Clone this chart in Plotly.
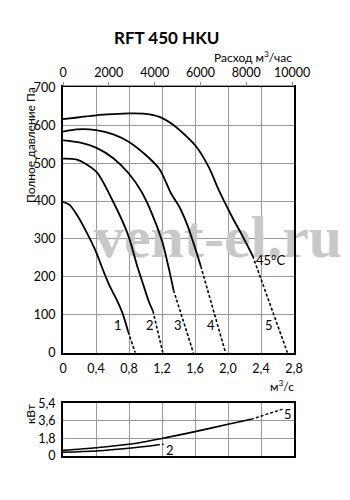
import plotly.graph_objects as go

# ---------------- data ----------------
flow_ticks = [0, 0.4, 0.8, 1.2, 1.6, 2.0, 2.4, 2.8]
flow_tick_text = ["0", "0,4", "0,8", "1,2", "1,6", "2,0", "2,4", "2,8"]
flow_h_ticks = [0, 2000, 4000, 6000, 8000, 10000]
flow_h_tick_text = ["0", "2000", "4000", "6000", "8000", "10000"]
p_ticks = [0, 100, 200, 300, 400, 500, 600, 700]
p_tick_text = ["0", "100", "200", "300", "400", "500", "600", "700"]
kw_ticks = [0, 1.8, 3.6, 5.4]
kw_tick_text = ["0", "1,8", "3,6", "5,4"]

# pressure curves (solid part) and their dashed continuation
c1_q = [0, 0.08, 0.17, 0.28, 0.39, 0.5, 0.57, 0.65, 0.72, 0.79]
c1_p = [398, 390, 363, 320, 271, 210, 174, 140, 105, 55]
c1_dq = [0.79, 0.875]
c1_dp = [55, 0]

c2_q = [0, 0.17, 0.4, 0.59, 0.79, 0.9, 0.98, 1.04, 1.09]
c2_p = [512, 509, 478, 406, 310, 228, 175, 135, 110]
c2_dq = [1.09, 1.21]
c2_dp = [110, 0]

c3_q = [0, 0.21, 0.4, 0.61, 0.8, 0.95, 1.07, 1.2, 1.28, 1.34]
c3_p = [560, 554, 541, 513, 472, 425, 371, 295, 225, 165]
c3_dq = [1.34, 1.58]
c3_dp = [165, 0]

c4_q = [0, 0.17, 0.4, 0.61, 0.8, 1.0, 1.17, 1.31, 1.41, 1.51, 1.61, 1.67]
c4_p = [583, 589, 587, 576, 556, 522, 484, 420, 385, 335, 270, 228]
c4_dq = [1.67, 1.97]
c4_dp = [228, 0]

c5_q = [0, 0.2, 0.4, 0.6, 0.8, 1.0, 1.17, 1.33, 1.49, 1.61, 1.77, 1.89, 2.05, 2.17, 2.30]
c5_p = [616, 621, 626, 629, 631, 630, 622, 602, 572, 545, 488, 428, 358, 310, 255]
c5_dq = [2.30, 2.72]
c5_dp = [255, 0]

curve_labels = ["1", "2", "3", "4", "5"]
curve_label_q = [0.67, 1.06, 1.39, 1.79, 2.50]
curve_label_p = [72, 72, 72, 72, 72]

# power curves
pw5_q = [0, 0.4, 0.8, 1.2, 1.6, 2.0, 2.28]
pw5_kw = [0.58, 0.85, 1.2, 1.8, 2.5, 3.25, 3.76]
pw5_dq = [2.28, 2.68]
pw5_dkw = [3.76, 4.85]

pw2_q = [0, 0.4, 0.8, 1.14]
pw2_kw = [0.38, 0.51, 0.79, 1.13]
pw2_dq = [1.14, 1.22]
pw2_dkw = [1.13, 1.2]

# ---------------- layout geometry ----------------
W, H = 350, 500
L, R = 63, 294
T1, B1 = 87.3, 352.7
T2, B2 = 403.3, 456
FONT = "Lato"

def px(x):
    return x / W

def py(y):
    return 1 - y / H

fig = go.Figure()

# watermark (under the curves)
fig.add_trace(go.Scatter(
    x=[1.88], y=[292], mode="text", text=["<b>vent-el.ru</b>"],
    textfont=dict(family="Liberation Serif", size=60, color="#c8c8c8"),
    cliponaxis=False, hoverinfo="skip", showlegend=False))

solid = dict(color="black", width=1.8)
dashed = dict(color="black", width=1.6, dash="3px,2px")

for q, p, dq, dp in [(c1_q, c1_p, c1_dq, c1_dp), (c2_q, c2_p, c2_dq, c2_dp),
                     (c3_q, c3_p, c3_dq, c3_dp), (c4_q, c4_p, c4_dq, c4_dp),
                     (c5_q, c5_p, c5_dq, c5_dp)]:
    fig.add_trace(go.Scatter(x=q, y=p, mode="lines", line=dict(shape="spline", smoothing=0.8, **solid),
                             showlegend=False, hoverinfo="skip"))
    fig.add_trace(go.Scatter(x=dq, y=dp, mode="lines", line=dashed,
                             showlegend=False, hoverinfo="skip"))

# invisible trace on the top m3/h axis
fig.add_trace(go.Scatter(x=[0, 10080], y=[0, 0], xaxis="x3", yaxis="y", mode="lines",
                         line=dict(width=0), showlegend=False, hoverinfo="skip"))

for q, k, dq, dk in [(pw5_q, pw5_kw, pw5_dq, pw5_dkw), (pw2_q, pw2_kw, pw2_dq, pw2_dkw)]:
    fig.add_trace(go.Scatter(x=q, y=k, xaxis="x2", yaxis="y2", mode="lines",
                             line=dict(shape="spline", smoothing=0.8, color="black", width=1.6),
                             showlegend=False, hoverinfo="skip"))
    fig.add_trace(go.Scatter(x=dq, y=dk, xaxis="x2", yaxis="y2", mode="lines",
                             line=dict(color="black", width=1.4, dash="3px,2px"),
                             showlegend=False, hoverinfo="skip"))

tickfont = dict(family=FONT, size=12.5, color="black")
grid = "#9a9a9a"

fig.update_layout(
    template="none",
    width=W, height=H,
    margin=dict(l=0, r=0, t=0, b=0, pad=0, autoexpand=False),
    paper_bgcolor="white", plot_bgcolor="white",
    showlegend=False,
    xaxis=dict(domain=[px(L), px(R)], anchor="y", range=[0, 2.8], automargin=False,
               tickmode="array", tickvals=flow_ticks, ticktext=flow_tick_text, tickfont=tickfont,
               ticks="outside", ticklen=3, tickcolor="rgba(0,0,0,0)",
               showgrid=True, gridcolor=grid, gridwidth=1,
               showline=True, linecolor="black", linewidth=2, mirror=True, zeroline=False),
    yaxis=dict(domain=[py(B1), py(T1)], anchor="x", range=[0, 700], automargin=False,
               tickmode="array", tickvals=p_ticks, ticktext=p_tick_text, tickfont=tickfont,
               ticks="outside", ticklen=3, tickcolor="rgba(0,0,0,0)",
               showgrid=True, gridcolor=grid, gridwidth=1,
               showline=True, linecolor="black", linewidth=2, mirror=True, zeroline=False),
    xaxis3=dict(overlaying="x", side="top", anchor="free", position=py(84.5), automargin=False,
                range=[0, 2.8 * 3600], tickmode="array", tickvals=flow_h_ticks,
                ticktext=flow_h_tick_text, tickfont=tickfont,
                ticks="outside", ticklen=3, tickcolor="#888", showgrid=False,
                showline=True, linecolor="#999", linewidth=1, zeroline=False),
    xaxis2=dict(domain=[px(L), px(R)], anchor="y2", range=[0, 2.8], automargin=False,
                tickmode="array", tickvals=flow_ticks, showticklabels=False, ticks="",
                showgrid=True, gridcolor=grid, gridwidth=1,
                showline=True, linecolor="black", linewidth=2, mirror=True, zeroline=False),
    yaxis2=dict(domain=[py(B2), py(T2)], anchor="x2", range=[0, 5.4], automargin=False,
                tickmode="array", tickvals=kw_ticks, ticktext=kw_tick_text, tickfont=tickfont,
                ticks="outside", ticklen=3, tickcolor="rgba(0,0,0,0)",
                showgrid=True, gridcolor=grid, gridwidth=1,
                showline=True, linecolor="black", linewidth=2, mirror=True, zeroline=False),
)

def pa(text, x, y, size=12, xanchor="center", angle=0):
    return dict(text=text, x=px(x), y=py(y), xref="paper", yref="paper",
                xanchor=xanchor, yanchor="middle", textangle=angle, showarrow=False,
                font=dict(family=FONT, size=size, color="black"))

ann = [
    pa("<b>RFT 450 HKU</b>", 166, 38, size=17),
    pa("Расход м<sup>3</sup>/час", 294, 57, xanchor="right"),
    pa("Полное давление Па", 30, 145, angle=-90),
    pa("м<sup>3</sup>/с", 296, 386, xanchor="right"),
    pa("кВт", 30, 414, angle=-90),
]
for t, q, p in zip(curve_labels, curve_label_q, curve_label_p):
    ann.append(dict(text=t, x=q, y=p, xref="x", yref="y", showarrow=False,
                    xanchor="center", yanchor="middle",
                    font=dict(family=FONT, size=13, color="black")))
ann.append(dict(text="45°C", x=2.52, y=244, xref="x", yref="y", showarrow=False,
                xanchor="center", yanchor="middle",
                font=dict(family=FONT, size=13, color="black")))
ann.append(dict(text="2", x=1.30, y=0.65, xref="x2", yref="y2", showarrow=False,
                xanchor="center", yanchor="middle",
                font=dict(family=FONT, size=13, color="black")))
ann.append(dict(text="5", x=2.73, y=4.3, xref="x2", yref="y2", showarrow=False,
                xanchor="center", yanchor="middle",
                font=dict(family=FONT, size=13, color="black")))
fig.update_layout(annotations=ann)

fig.write_html("out.html")
